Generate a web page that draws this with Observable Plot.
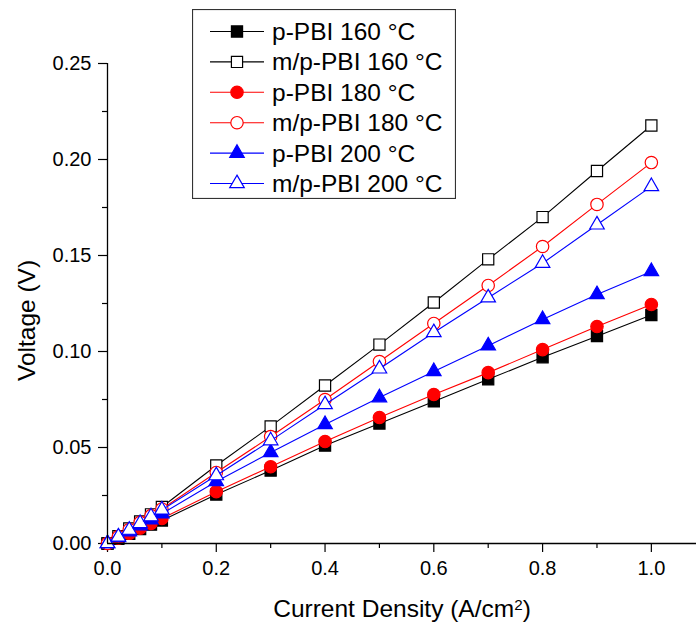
<!DOCTYPE html>
<html><head><meta charset="utf-8">
<script src="https://cdn.jsdelivr.net/npm/d3@7"></script>
<script src="https://cdn.jsdelivr.net/npm/@observablehq/plot@0.6"></script>
<style>
body{margin:0;background:#fff;font-family:"Liberation Sans",Arial,sans-serif}
#wrap{position:relative;width:696px;height:626px}
#legend{position:absolute;left:192px;top:9px}
</style>
</head><body><div id="wrap"></div>
<script>
// Data
const currentDensity = [0, 0.02, 0.04, 0.06, 0.08, 0.1, 0.2, 0.3, 0.4, 0.5, 0.6, 0.7, 0.8, 0.9, 1.0];
const pPBI160  = [0, 0.0025, 0.005, 0.0075, 0.0098, 0.012, 0.0255, 0.038, 0.051, 0.0625, 0.074, 0.0855, 0.097, 0.108, 0.119];
const mpPBI160 = [0, 0.0038, 0.0078, 0.0115, 0.0152, 0.019, 0.0406, 0.061, 0.0823, 0.1036, 0.1255, 0.148, 0.170, 0.194, 0.2177];
const pPBI180  = [0, 0.0027, 0.0053, 0.008, 0.0105, 0.013, 0.027, 0.040, 0.0531, 0.0656, 0.0776, 0.089, 0.101, 0.113, 0.1245];
const mpPBI180 = [0, 0.0036, 0.0073, 0.011, 0.0145, 0.018, 0.037, 0.0557, 0.075, 0.0948, 0.1146, 0.1344, 0.1547, 0.1766, 0.1984];
const pPBI200  = [0, 0.0031, 0.0062, 0.0093, 0.0124, 0.0155, 0.0323, 0.0474, 0.062, 0.076, 0.0896, 0.103, 0.1167, 0.1297, 0.1417];
const mpPBI200 = [0, 0.0035, 0.007, 0.0105, 0.014, 0.0175, 0.0354, 0.0536, 0.0724, 0.091, 0.1099, 0.128, 0.146, 0.166, 0.186];

const seriesNames = ["p-PBI 160 °C", "m/p-PBI 160 °C", "p-PBI 180 °C", "m/p-PBI 180 °C", "p-PBI 200 °C", "m/p-PBI 200 °C"];
const seriesValues = [pPBI160, mpPBI160, pPBI180, mpPBI180, pPBI200, mpPBI200];
const seriesColors = ["#000000", "#000000", "#ff0000", "#ff0000", "#0000ff", "#0000ff"];
const seriesSymbols = ["square", "square", "circle", "circle", "triangle", "triangle"];
const seriesFilled = [true, false, true, false, true, false];

const yMajor = [0, 0.05, 0.10, 0.15, 0.20, 0.25];
const yMinor = [0.025, 0.075, 0.125, 0.175, 0.225];
const xMajor = [0, 0.2, 0.4, 0.6, 0.8, 1.0];
const xMinor = [0.1, 0.3, 0.5, 0.7, 0.9];
const xTitle = "Current Density (A/cm2)";
const yTitle = "Voltage (V)";

const symR = {square: 6.3, circle: 6.2, triangle: 5.4};

const marks = [];
seriesNames.forEach((name, i) => {
  const rows = currentDensity.map((x, j) => ({x, y: seriesValues[i][j], s: name}));
  marks.push(Plot.line(rows, {x: "x", y: "y", stroke: seriesColors[i], strokeWidth: 1.1}));
  marks.push(Plot.dot(rows, {
    x: "x", y: "y", symbol: () => seriesSymbols[i], r: symR[seriesSymbols[i]],
    fill: seriesFilled[i] ? seriesColors[i] : "#fff",
    stroke: seriesColors[i], strokeWidth: 1.2
  }));
});

const chart = Plot.plot({
  width: 696, height: 626,
  marginLeft: 107, marginTop: 63, marginBottom: 83, marginRight: 0,
  style: {fontFamily: "Liberation Sans, Arial, sans-serif", color: "#000", background: "#fff"},
  x: {domain: [0, 1.083]},
  y: {domain: [0, 0.25]},
  marks: [
    Plot.axisY({ticks: yMajor, tickSize: 9, tickPadding: 7, tickFormat: d3.format(".2f"), fontSize: 20, label: null, strokeWidth: 1.2}),
    Plot.axisY({ticks: yMinor, tickSize: 5, tickFormat: () => "", label: null, strokeWidth: 1.2}),
    Plot.axisX({ticks: xMajor, tickSize: 9, tickPadding: 8, tickFormat: d3.format(".1f"), fontSize: 20, label: null, strokeWidth: 1.2}),
    Plot.axisX({ticks: xMinor, tickSize: 5, tickFormat: () => "", label: null, strokeWidth: 1.2}),
    ...marks,
    Plot.ruleX([0], {stroke: "#000", strokeWidth: 1.3}),
    Plot.ruleY([0], {stroke: "#000", strokeWidth: 1.3}),
    Plot.text([yTitle], {frameAnchor: "left", rotate: -90, dx: -80, dy: 17, fontSize: 24.5, textAnchor: "middle", lineAnchor: "middle", fill: "#000"}),
    Plot.text([xTitle], {frameAnchor: "bottom", dy: 66, fontSize: 24.5, textAnchor: "middle", lineAnchor: "middle", fill: "#000"})
  ]
});
const wrap = document.getElementById("wrap");
wrap.appendChild(chart);

// Superscript "2" in the x title
d3.select(chart).selectAll("text").each(function() {
  if (this.textContent.includes("A/cm2")) {
    const t = d3.select(this);
    t.selectAll("*").remove();
    t.text("Current Density (A/cm");
    t.append("tspan").attr("dy", "-0.5em").attr("font-size", "0.62em").text("2");
    t.append("tspan").attr("dy", "0.31em").text(")");
  }
});

// Legend (drawn with d3)
const lw = 264, lh = 190, rowH = 30.4, row0 = 22.5;
const leg = d3.select(wrap).append("svg").attr("id", "legend").attr("width", lw).attr("height", lh)
  .style("font-family", "Liberation Sans, Arial, sans-serif");
leg.append("rect").attr("x", 0.5).attr("y", 0.5).attr("width", lw - 1).attr("height", lh - 1)
  .attr("fill", "#fff").attr("stroke", "#333").attr("stroke-width", 1.2);
const symMap = {square: d3.symbolSquare, circle: d3.symbolCircle, triangle: d3.symbolTriangle};
seriesNames.forEach((name, i) => {
  const cy = row0 + i * rowH;
  leg.append("line").attr("x1", 18).attr("x2", 72).attr("y1", cy).attr("y2", cy)
    .attr("stroke", seriesColors[i]).attr("stroke-width", 1.1);
  const r = symR[seriesSymbols[i]];
  leg.append("path").attr("d", d3.symbol(symMap[seriesSymbols[i]], Math.PI * r * r)())
    .attr("transform", `translate(45,${cy})`)
    .attr("fill", seriesFilled[i] ? seriesColors[i] : "#fff")
    .attr("stroke", seriesColors[i]).attr("stroke-width", 1.2);
  leg.append("text").attr("x", 80).attr("y", cy).attr("dy", "0.35em")
    .attr("font-size", 24.5).attr("fill", "#000").text(name);
});
</script>
</body></html>
